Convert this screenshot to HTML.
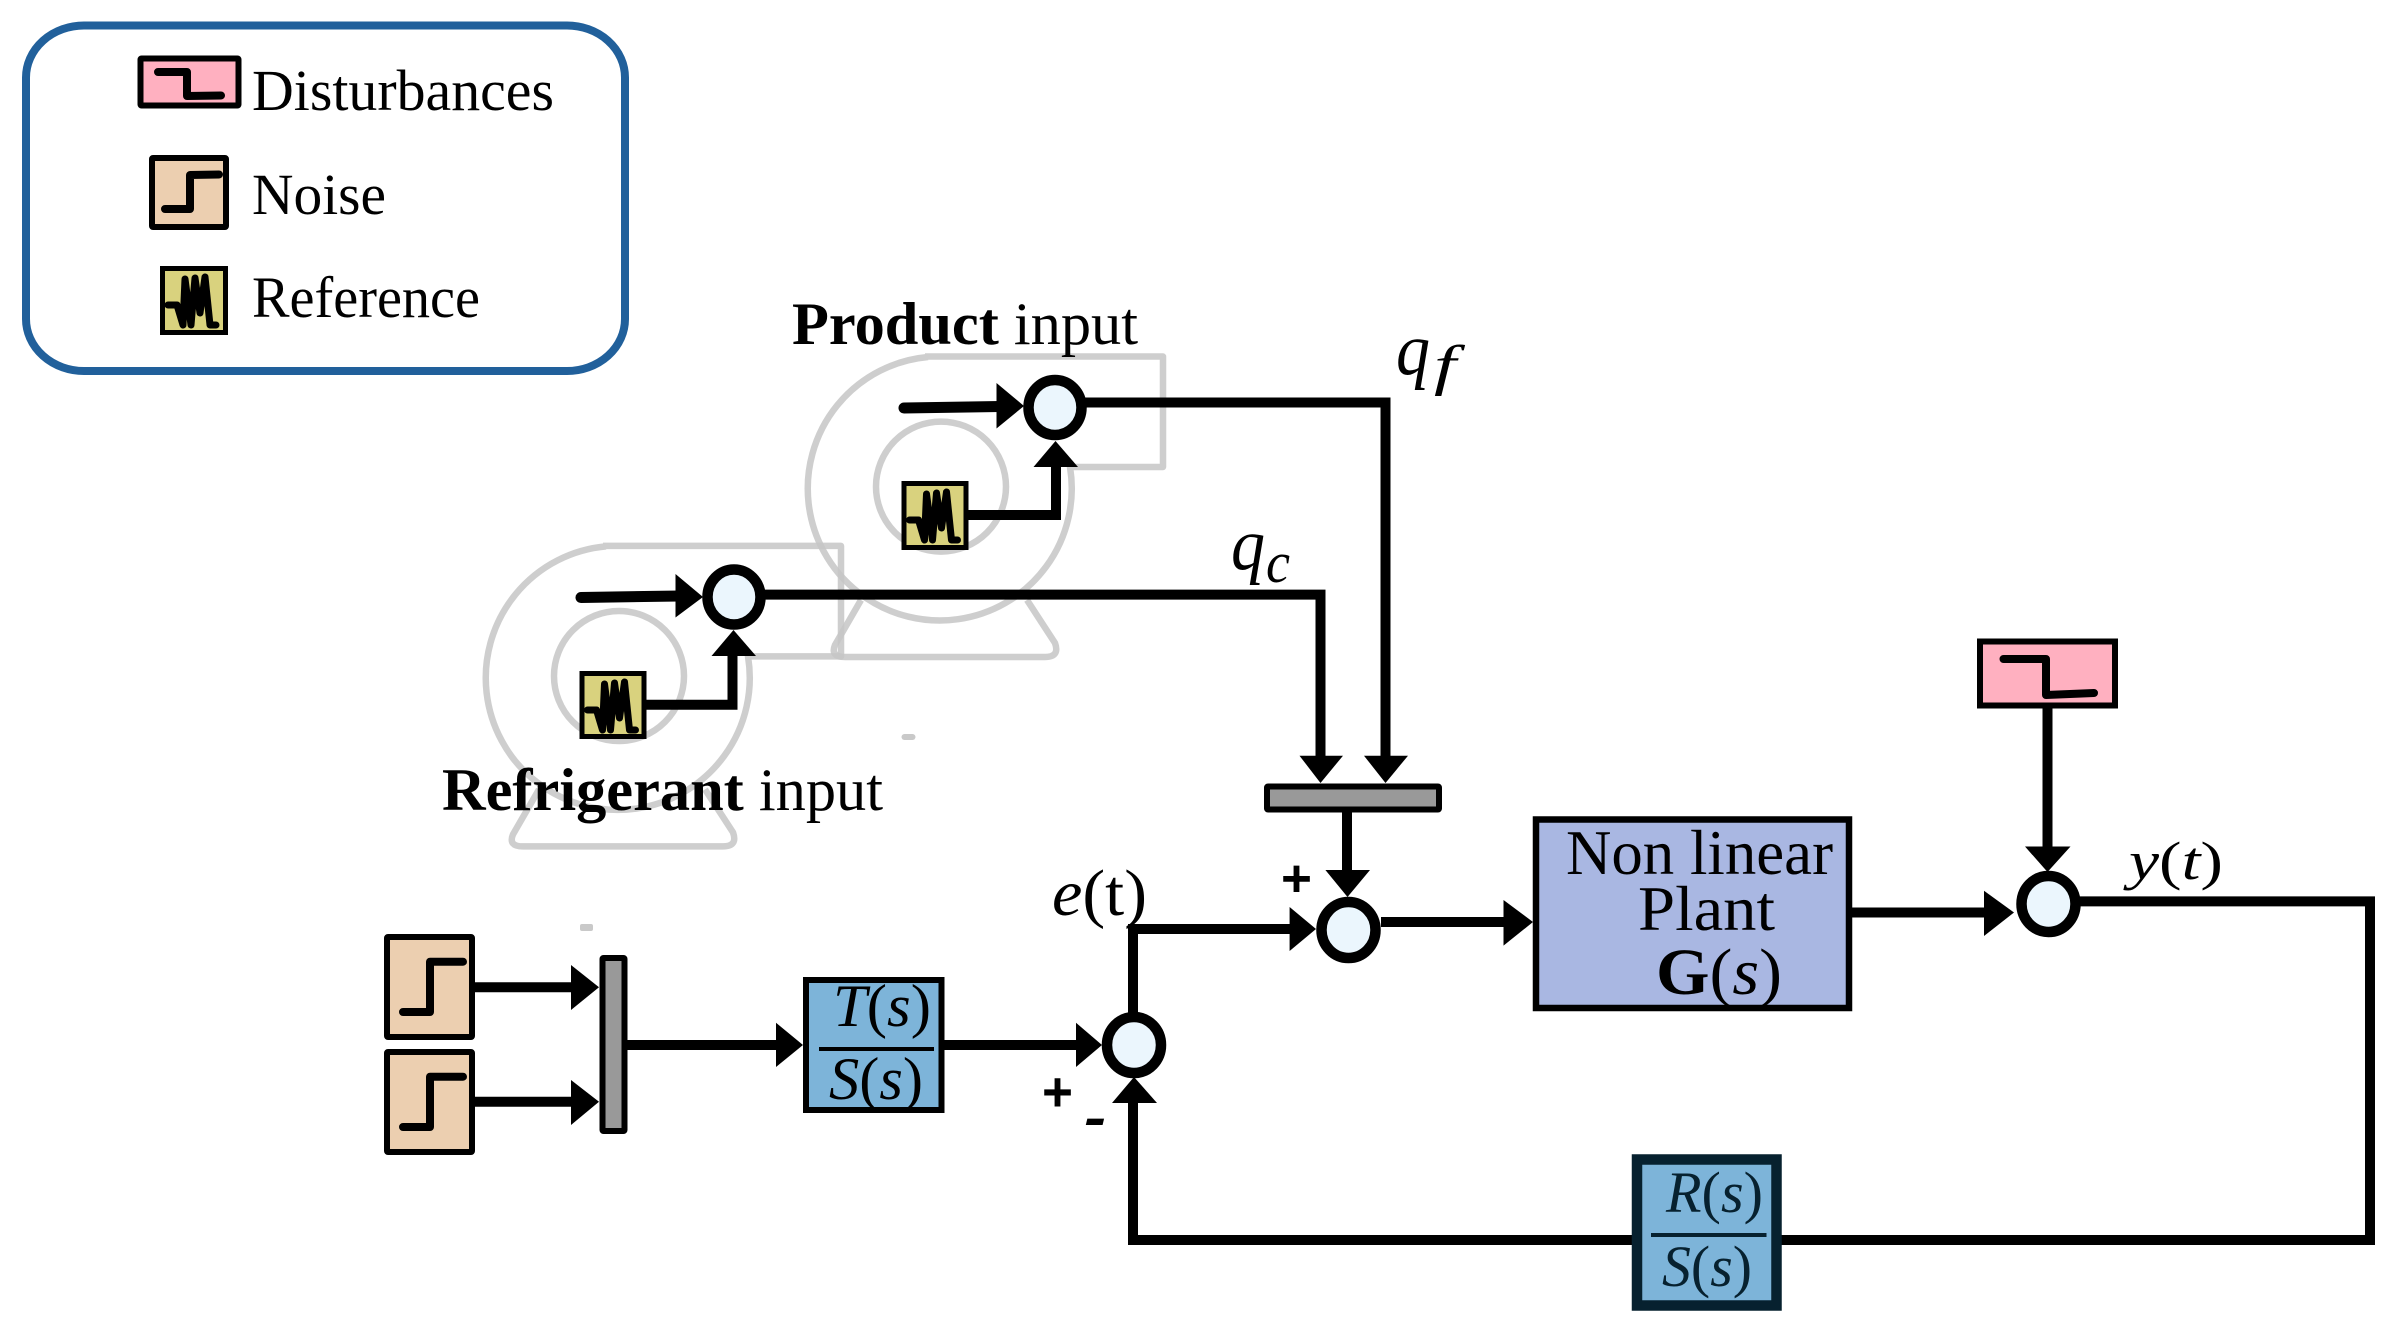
<!DOCTYPE html>
<html><head><meta charset="utf-8"><style>
html,body{margin:0;padding:0;background:#fff}
svg{display:block}
text{font-family:"Liberation Serif",serif;fill:#000}
.i{font-style:italic}
</style></head><body>
<svg width="2398" height="1329" viewBox="0 0 2398 1329" xmlns="http://www.w3.org/2000/svg">
<defs>
<g id="pump" fill="none" stroke="#c6c6c6" stroke-opacity=".85" stroke-width="6.500" stroke-linejoin="round">
<path d="M925 356.500H1163V467H1070A132 132 0 1 1 928 357"/>
<circle cx="941" cy="486.600" r="65"/>
<path d="M861 600L835 645Q830 657 845 657H1045Q1060 657 1055 643L1027 600"/>
</g>
<g id="sq"><path d="M8 39H17L23 59L25 13L31 59L35 12L40 47L45 11L50 59H56" fill="none" stroke="#000" stroke-width="7" stroke-linecap="round" stroke-linejoin="round"/></g>
</defs>
<rect width="2398" height="1329" fill="#fff"/>

<!-- legend -->
<rect x="26" y="25.500" width="599" height="345.500" rx="58" ry="52" fill="#fff" stroke="#21609b" stroke-width="8"/>
<rect x="140.500" y="58.500" width="98" height="47" fill="#ffb0c0" stroke="#000" stroke-width="6" rx="1"/>
<path d="M158 72H187V96L221 95.500" fill="none" stroke="#000" stroke-width="8" stroke-linecap="round" stroke-linejoin="round"/>
<text x="252" y="110" font-size="58" textLength="302" lengthAdjust="spacingAndGlyphs">Disturbances</text>
<rect x="152" y="158" width="74" height="69" fill="#eccfb0" stroke="#000" stroke-width="6" rx="1"/>
<path d="M165 209H190V175L219 174.500" fill="none" stroke="#000" stroke-width="8" stroke-linecap="round" stroke-linejoin="round"/>
<text x="252" y="214" font-size="58" textLength="134" lengthAdjust="spacingAndGlyphs">Noise</text>
<rect x="162.500" y="268.500" width="63" height="64" fill="#d9d27e" stroke="#000" stroke-width="5"/>
<use href="#sq" transform="translate(160 266)"/>
<text x="252" y="317" font-size="58" textLength="228" lengthAdjust="spacingAndGlyphs">Reference</text>

<!-- pumps -->
<use href="#pump"/>
<use href="#pump" transform="translate(-322 189.400)"/>
<rect x="901.500" y="734" width="14" height="6" rx="3" fill="#c9c9c9"/>
<rect x="580" y="924" width="13" height="7" rx="2" fill="#c9c9c9"/>

<!-- connectors -->
<g fill="none" stroke="#000" stroke-width="10" stroke-linejoin="miter">
<path d="M904 408L1000 406.500" stroke-width="11" stroke-linecap="round"/>
<path d="M1085 402.500H1385.500V760"/>
<path d="M968 515H1056V462"/>
<path d="M581 597.500L680 596" stroke-width="11" stroke-linecap="round"/>
<path d="M764 594.600H1320.500V760"/>
<path d="M646 704.800H732.500V652"/>
<path d="M1347 812V875"/>
<path d="M1133 1015V929H1295"/>
<path d="M1381 922H1506"/>
<path d="M1852 912.500H1988"/>
<path d="M2047.500 708V850"/>
<path d="M2080 901.400H2370V1240H1781"/>
<path d="M1632 1240H1133V1100"/>
<path d="M475 987.300H575"/>
<path d="M475 1101.700H575"/>
<path d="M626 1045H780"/>
<path d="M944 1045H1080"/>
</g>
<g fill="#000">
<polygon points="996.500,383 1024,406 996.500,428.500"/>
<polygon points="1033.500,467 1078,467 1055.500,441"/>
<polygon points="675.500,574 703,597 675.500,617.500"/>
<polygon points="711.500,656 756,656 733.500,630"/>
<polygon points="1299.500,755.700 1343,755.700 1320.500,783"/>
<polygon points="1364,755.700 1408,755.700 1385.500,783"/>
<polygon points="1325.400,870 1370,870 1347.500,897"/>
<polygon points="1289.600,907 1316,929 1289.600,951"/>
<polygon points="1503.500,900 1533,922 1503.500,945.600"/>
<polygon points="1984,890.700 2014,912.500 1984,936"/>
<polygon points="2025,846.500 2070.500,846.500 2047.500,872"/>
<polygon points="1112,1103 1157,1103 1134,1077"/>
<polygon points="571,965 599,987.300 571,1010"/>
<polygon points="571,1080 599,1101.700 571,1125"/>
<polygon points="776,1022.700 803,1045 776,1067"/>
<polygon points="1076,1022.700 1102,1045 1076,1067"/>
</g>

<!-- summing junctions -->
<g fill="#ebf6fd" stroke="#000" stroke-width="10.500">
<ellipse cx="1055" cy="407.500" rx="26.500" ry="27.500"/>
<ellipse cx="734" cy="597" rx="26.500" ry="27.500"/>
<ellipse cx="1348.500" cy="930" rx="27" ry="28"/>
<ellipse cx="2048.500" cy="904" rx="27" ry="28"/>
<ellipse cx="1134" cy="1045" rx="27" ry="28"/>
</g>

<!-- reference icons -->
<rect x="904" y="483.500" width="62" height="64" fill="#d9d27e" stroke="#000" stroke-width="5"/>
<use href="#sq" transform="translate(901.500 481)"/>
<rect x="582" y="673.500" width="62" height="63" fill="#d9d27e" stroke="#000" stroke-width="5"/>
<use href="#sq" transform="translate(579.500 671)"/>

<!-- bars -->
<rect x="1267" y="786.500" width="172" height="23" fill="#999" stroke="#000" stroke-width="6" rx="1"/>
<rect x="602.500" y="958" width="22" height="173" fill="#999" stroke="#000" stroke-width="6" rx="1"/>

<!-- noise boxes -->
<rect x="387" y="937" width="85" height="100" fill="#eccfb0" stroke="#000" stroke-width="6" rx="1"/>
<path d="M403 1012H430V961.700H463" fill="none" stroke="#000" stroke-width="8" stroke-linecap="round" stroke-linejoin="round"/>
<rect x="387" y="1052" width="85" height="100" fill="#eccfb0" stroke="#000" stroke-width="6" rx="1"/>
<path d="M403 1127H430V1076.700H463" fill="none" stroke="#000" stroke-width="8" stroke-linecap="round" stroke-linejoin="round"/>

<!-- T(s)/S(s) -->
<rect x="806" y="980" width="135.500" height="130" fill="#7db4d9" stroke="#000" stroke-width="6"/>
<rect x="819" y="1047" width="115" height="4" fill="#000"/>
<text x="833" y="1026" font-size="60" textLength="98" lengthAdjust="spacingAndGlyphs"><tspan class="i">T</tspan>(<tspan class="i">s</tspan>)</text>
<text x="829" y="1099" font-size="60" textLength="94" lengthAdjust="spacingAndGlyphs"><tspan class="i">S</tspan>(<tspan class="i">s</tspan>)</text>

<!-- plant -->
<rect x="1536" y="819.500" width="313" height="188.500" fill="#a9b7e2" stroke="#000" stroke-width="6.500"/>
<text x="1566" y="874" font-size="64" textLength="267" lengthAdjust="spacingAndGlyphs">Non linear</text>
<text x="1638" y="930" font-size="64" textLength="137" lengthAdjust="spacingAndGlyphs">Plant</text>
<text x="1656" y="994" font-size="66" textLength="126" lengthAdjust="spacingAndGlyphs"><tspan font-weight="bold">G</tspan>(<tspan class="i">s</tspan>)</text>

<!-- disturbance -->
<rect x="1980" y="641.500" width="135" height="64" fill="#ffb0c0" stroke="#000" stroke-width="6"/>
<path d="M2003.500 659H2046V695L2094 693" fill="none" stroke="#000" stroke-width="8" stroke-linecap="round" stroke-linejoin="round"/>

<!-- R(s)/S(s) -->
<rect x="1637" y="1159.500" width="139.500" height="146" fill="#7db4d9" stroke="#07212f" stroke-width="10.500"/>
<rect x="1651" y="1233" width="115.500" height="4" fill="#07212f"/>
<text x="1666" y="1212" font-size="58" textLength="97" lengthAdjust="spacingAndGlyphs" style="fill:#07212f"><tspan class="i">R</tspan>(<tspan class="i">s</tspan>)</text>
<text x="1662" y="1286" font-size="58" textLength="90" lengthAdjust="spacingAndGlyphs" style="fill:#07212f"><tspan class="i">S</tspan>(<tspan class="i">s</tspan>)</text>

<!-- labels -->
<text x="792" y="344" font-size="60" textLength="346" lengthAdjust="spacingAndGlyphs"><tspan font-weight="bold">Product</tspan> input</text>
<text x="442" y="810" font-size="60" textLength="441" lengthAdjust="spacingAndGlyphs"><tspan font-weight="bold">Refrigerant</tspan> input</text>
<text class="i" x="1396" y="374" font-size="74" textLength="34" lengthAdjust="spacingAndGlyphs">q</text>
<text class="i" x="1434" y="384" font-size="56" textLength="22" lengthAdjust="spacingAndGlyphs">f</text>
<text class="i" x="1231" y="569" font-size="74" textLength="34" lengthAdjust="spacingAndGlyphs">q</text>
<text class="i" x="1266" y="582" font-size="58" textLength="24" lengthAdjust="spacingAndGlyphs">c</text>
<text x="1052" y="915" font-size="66" textLength="95" lengthAdjust="spacingAndGlyphs"><tspan class="i">e</tspan>(t)</text>
<text x="2129" y="879" font-size="54" textLength="94" lengthAdjust="spacingAndGlyphs"><tspan class="i">y</tspan>(<tspan class="i">t</tspan>)</text>
<text x="1042" y="1111" font-size="56" font-weight="bold" textLength="31" lengthAdjust="spacingAndGlyphs" style="font-family:'Liberation Sans',sans-serif">+</text>
<text x="1084" y="1136" font-size="54" font-weight="bold" font-style="italic" textLength="22" lengthAdjust="spacingAndGlyphs" style="font-family:'Liberation Sans',sans-serif">-</text>
<text x="1281" y="896" font-size="52" font-weight="bold" textLength="31" lengthAdjust="spacingAndGlyphs" style="font-family:'Liberation Sans',sans-serif">+</text>
</svg>
</body></html>
